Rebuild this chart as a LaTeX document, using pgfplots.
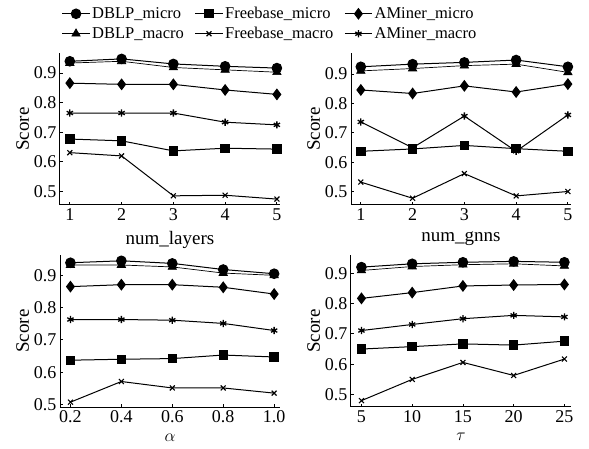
\documentclass[border=0pt]{standalone}
\usepackage{fontspec}
\setmainfont{Liberation Serif}
\usepackage{pgfplots}
\usepackage{pgfplotstable}
\pgfplotsset{compat=1.18}
\usepgfplotslibrary{groupplots}

% x  DBLP_micro DBLP_macro Freebase_micro Freebase_macro AMiner_micro AMiner_macro
\pgfplotstableread{
x   dm    dM    fm    fM    am    aM
1   0.940 0.934 0.677 0.631 0.866 0.765
2   0.948 0.940 0.671 0.620 0.862 0.765
3   0.931 0.919 0.637 0.485 0.862 0.765
4   0.923 0.911 0.646 0.487 0.843 0.734
5   0.917 0.903 0.643 0.474 0.828 0.725
}\layers
\pgfplotstableread{
x   dm    dM    fm    fM    am    aM
1   0.925 0.911 0.637 0.532 0.846 0.737
2   0.934 0.919 0.645 0.477 0.834 0.649
3   0.940 0.929 0.657 0.561 0.860 0.757
4   0.948 0.934 0.646 0.485 0.839 0.637
5   0.925 0.906 0.637 0.500 0.866 0.761
}\gnns
\pgfplotstableread{
x   dm    dM    fm    fM    am    aM
0.2 0.939 0.932 0.637 0.507 0.865 0.763
0.4 0.945 0.932 0.640 0.571 0.871 0.763
0.6 0.937 0.926 0.642 0.551 0.871 0.761
0.8 0.918 0.907 0.653 0.551 0.863 0.751
1.0 0.905 0.900 0.647 0.535 0.842 0.729
}\alphatab
\pgfplotstableread{
x   dm    dM    fm    fM    am    aM
5   0.920 0.909 0.650 0.480 0.817 0.711
10  0.931 0.922 0.658 0.550 0.836 0.731
15  0.936 0.928 0.667 0.606 0.858 0.750
20  0.939 0.931 0.663 0.563 0.861 0.761
25  0.936 0.924 0.676 0.617 0.863 0.756
}\tautab

\pgfplotsset{
  dm/.style={black, line width=1pt, mark=*, mark size=4.8pt},
  dM/.style={black, line width=0.7pt, mark=triangle*, mark size=4.8pt},
  fm/.style={black, line width=1pt, mark=square*, mark size=4.2pt},
  fM/.style={black, line width=1pt, mark=x, mark size=3.5pt, mark options={line width=1.1pt}},
  am/.style={black, line width=1pt, mark=diamond*, mark size=5.2pt},
  aM/.style={black, line width=1pt, mark=asterisk, mark size=3.6pt, mark options={line width=1.3pt}},
}

\begin{document}
\begin{tikzpicture}
\begin{groupplot}[
  group style={group size=2 by 2, horizontal sep=71pt, vertical sep=50pt},
  scale only axis, width=220pt, height=152pt,
  axis lines*=left, axis line style={-, line width=1pt},
  tick style={black, line width=0.8pt}, major tick length=3pt,
  ytick={0.5,0.6,0.7,0.8,0.9},
  yticklabel style={/pgf/number format/fixed, /pgf/number format/precision=1, /pgf/number format/fixed zerofill},
  /pgf/number format/assume math mode=true,
  tick label style={font=\fontsize{18}{20}\selectfont},
  label style={font=\fontsize{19}{21}\selectfont},
  ylabel={Score}, ylabel style={yshift=-2pt},
  xlabel style={yshift=-4pt},
  xtick=data,
  legend style={draw=none, fill=none, font=\fontsize{16.5}{18}\selectfont,
    legend columns=3, /tikz/every even column/.append style={column sep=9pt}, row sep=3pt,
    inner sep=0pt, at={(0.955,1.315)}, anchor=north},
  legend cell align=left,
  legend image code/.code={\draw[mark repeat=2,mark phase=2] plot coordinates {(0cm,0cm) (0.48cm,0cm) (0.96cm,0cm)};},
]
\nextgroupplot[xmin=0.81, xmax=5.06, ymin=0.454, ymax=0.968, xlabel={num\_layers}]
\addplot[dm] table[x=x,y=dm] {\layers};
\addplot[fm] table[x=x,y=fm] {\layers};
\addplot[am] table[x=x,y=am] {\layers};
\addplot[dM] table[x=x,y=dM] {\layers};
\addplot[fM] table[x=x,y=fM] {\layers};
\addplot[aM] table[x=x,y=aM] {\layers};
\legend{DBLP\_micro, Freebase\_micro, AMiner\_micro, DBLP\_macro, Freebase\_macro, AMiner\_macro}

\nextgroupplot[xmin=0.81, xmax=5.06, ymin=0.454, ymax=0.972, xlabel={num\_gnns}]
\addplot[dm] table[x=x,y=dm] {\gnns};
\addplot[dM] table[x=x,y=dM] {\gnns};
\addplot[fm] table[x=x,y=fm] {\gnns};
\addplot[fM] table[x=x,y=fM] {\gnns};
\addplot[am] table[x=x,y=am] {\gnns};
\addplot[aM] table[x=x,y=aM] {\gnns};

\nextgroupplot[xmin=0.159, xmax=1.023, ymin=0.492, ymax=0.963, xlabel={$\alpha$},
  xticklabel style={/pgf/number format/fixed, /pgf/number format/precision=1, /pgf/number format/fixed zerofill}]
\addplot[dm] table[x=x,y=dm] {\alphatab};
\addplot[dM] table[x=x,y=dM] {\alphatab};
\addplot[fm] table[x=x,y=fm] {\alphatab};
\addplot[fM] table[x=x,y=fM] {\alphatab};
\addplot[am] table[x=x,y=am] {\alphatab};
\addplot[aM] table[x=x,y=aM] {\alphatab};

\nextgroupplot[xmin=3.97, xmax=25.65, ymin=0.459, ymax=0.96, xlabel={$\tau$}]
\addplot[dm] table[x=x,y=dm] {\tautab};
\addplot[dM] table[x=x,y=dM] {\tautab};
\addplot[fm] table[x=x,y=fm] {\tautab};
\addplot[fM] table[x=x,y=fM] {\tautab};
\addplot[am] table[x=x,y=am] {\tautab};
\addplot[aM] table[x=x,y=aM] {\tautab};
\end{groupplot}
\path (group c1r1.north west) ++(-60pt,53pt) rectangle ++(589pt,-449pt);
\end{tikzpicture}
\end{document}
